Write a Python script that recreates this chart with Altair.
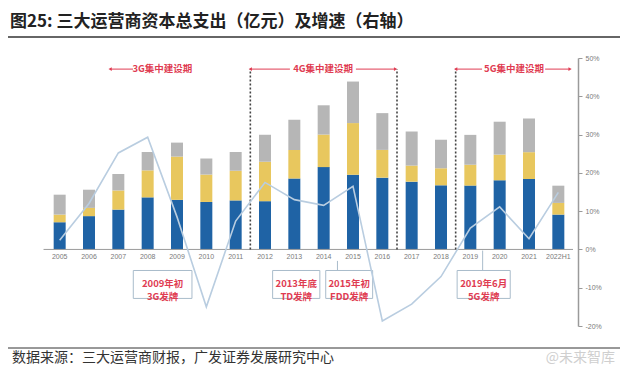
import altair as alt
import pandas as pd

years = ["2005", "2006", "2007", "2008", "2009", "2010", "2011", "2012", "2013",
         "2014", "2015", "2016", "2017", "2018", "2019", "2020", "2021", "2022H1"]
series = ["中国移动", "中国联通", "中国电信"]
mobile = [710, 870, 1040, 1360, 1295, 1240, 1280, 1260, 1850, 2150, 1950, 1875, 1770, 1675, 1667, 1806, 1840, 910]
unicom = [200, 215, 500, 705, 1130, 715, 775, 1030, 750, 850, 1350, 725, 420, 445, 545, 670, 700, 305]
telecom = [520, 475, 430, 480, 365, 420, 490, 705, 785, 765, 1085, 960, 890, 745, 780, 860, 880, 450]
growth = [2.4, 12, 25.2, 29.3, 8.5, -15, 7.4, 17.5, 13, 11.5, 16.5, -18.7, -14.3, -7.1, 5.6, 11.1, 2.8, 14.9]
colors = ["#1f63a5", "#e8c75e", "#b6b6b6"]

left_ticks = [-2000, -1000, 0, 1000, 2000, 3000, 4000, 5000]
right_ticks = [-20, -10, 0, 10, 20, 30, 40, 50]

# annotation content
periods = ["3G集中建设期", "4G集中建设期", "5G集中建设期"]
period_centers = [3.5, 8.98, 15.49]
dividers = [6.5, 11.5, 13.5]
arrow_segs = [(1.72, 2.5), (6.5, 7.85), (10.1, 11.45), (13.5, 14.4), (16.55, 17.4)]
arrow_heads_left = [1.72, 6.5, 13.5]
arrow_heads_right = [11.45, 17.4]
arrow_level = 4710

boxes_text = ["2009年初\n3G发牌", "2013年底\nTD发牌", "2015年初\nFDD发牌", "2019年6月\n5G发牌"]
boxes_x = [(2.51, 4.51), (7.26, 8.87), (9.07, 10.67), (13.55, 15.36)]
box_top, box_bottom = -550, -1280
connectors = [(9.47, -300), (14.42, -30)]

idx = list(range(len(years)))
XS = alt.Scale(domain=[-0.5, 17.5], nice=False, zero=False)
YS = alt.Scale(domain=[-2000, 5000], nice=False, zero=False)
RED = "#e03c52"
FONT = "Noto Sans CJK SC"

rows = []
for i in idx:
    for o, (s, vals) in enumerate(zip(series, [mobile, unicom, telecom])):
        rows.append({"i": i, "s": s, "v": vals[i], "o": o})
bars_df = pd.DataFrame(rows)

bars = alt.Chart(bars_df).mark_bar(size=12, orient="vertical").encode(
    x=alt.X("i:Q", scale=XS, axis=None),
    y=alt.Y("v:Q", stack="zero", scale=YS, title=None,
            axis=alt.Axis(values=left_ticks, grid=False, ticks=False, domainColor="#9a9a9a",
                          domainWidth=1.5, labelFontSize=7, labelColor="#7a7a7a", labelPadding=6,
                          labelFont="Liberation Sans")),
    color=alt.Color("s:N", scale=alt.Scale(domain=series, range=colors), legend=None),
    order=alt.Order("o:Q"),
)

year_df = pd.DataFrame({"i": idx, "z": [0] * len(idx), "t": years})
year_labels = alt.Chart(year_df).mark_text(fontSize=7, color="#7a7a7a", dy=8, font="Liberation Sans").encode(
    x=alt.X("i:Q", scale=XS, axis=None), y=alt.Y("z:Q", scale=YS, axis=None), text="t:N")

zero_df = pd.DataFrame({"a": [-0.55], "b": [17.5], "z": [0]})
zero_line = alt.Chart(zero_df).mark_rule(color="#9a9a9a", strokeWidth=1).encode(
    x=alt.X("a:Q", scale=XS, axis=None), x2="b:Q", y=alt.Y("z:Q", scale=YS, axis=None))

div_df = pd.DataFrame({"x": dividers, "y0": [0] * 3, "y1": [arrow_level] * 3})
div_lines = alt.Chart(div_df).mark_rule(color="#444444", strokeWidth=1.6, strokeDash=[2, 2]).encode(
    x=alt.X("x:Q", scale=XS, axis=None), y=alt.Y("y0:Q", scale=YS, axis=None), y2="y1:Q")

seg_df = pd.DataFrame({"a": [s[0] for s in arrow_segs], "b": [s[1] for s in arrow_segs],
                       "y": [arrow_level] * len(arrow_segs)})
segs = alt.Chart(seg_df).mark_rule(color=RED, strokeWidth=1).encode(
    x=alt.X("a:Q", scale=XS, axis=None), x2="b:Q", y=alt.Y("y:Q", scale=YS, axis=None))

hl_df = pd.DataFrame({"x": arrow_heads_left, "y": [arrow_level] * len(arrow_heads_left)})
heads_l = alt.Chart(hl_df).mark_point(shape="triangle-left", filled=True, size=14, color=RED, opacity=1).encode(
    x=alt.X("x:Q", scale=XS, axis=None), y=alt.Y("y:Q", scale=YS, axis=None))
hr_df = pd.DataFrame({"x": arrow_heads_right, "y": [arrow_level] * len(arrow_heads_right)})
heads_r = alt.Chart(hr_df).mark_point(shape="triangle-right", filled=True, size=14, color=RED, opacity=1).encode(
    x=alt.X("x:Q", scale=XS, axis=None), y=alt.Y("y:Q", scale=YS, axis=None))

per_df = pd.DataFrame({"x": period_centers, "y": [arrow_level] * 3, "t": periods})
per_text = alt.Chart(per_df).mark_text(color=RED, fontSize=9.5, font=FONT, fontWeight="bold").encode(
    x=alt.X("x:Q", scale=XS, axis=None), y=alt.Y("y:Q", scale=YS, axis=None), text="t:N")

con_df = pd.DataFrame({"x": [c[0] for c in connectors], "y0": [c[1] for c in connectors],
                       "y1": [box_top] * len(connectors)})
con_lines = alt.Chart(con_df).mark_rule(color="#a9bccb", strokeWidth=1).encode(
    x=alt.X("x:Q", scale=XS, axis=None), y=alt.Y("y0:Q", scale=YS, axis=None), y2="y1:Q")

box_df = pd.DataFrame({"a": [b[0] for b in boxes_x], "b": [b[1] for b in boxes_x],
                       "y0": [box_top] * 4, "y1": [box_bottom] * 4, "t": boxes_text,
                       "c": [(b[0] + b[1]) / 2 for b in boxes_x], "m": [(box_top + box_bottom) / 2] * 4})
box_rects = alt.Chart(box_df).mark_rect(fill="white", stroke="#a9bccb", strokeWidth=1).encode(
    x=alt.X("a:Q", scale=XS, axis=None), x2="b:Q", y=alt.Y("y0:Q", scale=YS, axis=None), y2="y1:Q")
box_texts = alt.Chart(box_df).mark_text(color=RED, fontSize=9.5, font=FONT, fontWeight="bold",
                                        lineBreak="\n", lineHeight=12.5).encode(
    x=alt.X("c:Q", scale=XS, axis=None), y=alt.Y("m:Q", scale=YS, axis=None), text="t:N")

one = pd.DataFrame({"k": [0]})
title = alt.Chart(one).mark_text(text="图25:  三大运营商资本总支出（亿元）及增速（右轴）", align="left",
                                 baseline="middle", fontSize=17, fontWeight="bold", font=FONT,
                                 color="#222222").encode(x=alt.value(-30), y=alt.value(-36))
title_rule = alt.Chart(one).mark_rule(color="#333333", strokeWidth=1.5).encode(
    x=alt.value(-35), x2=alt.value(580), y=alt.value(-21))
foot_rule = alt.Chart(one).mark_rule(color="#333333", strokeWidth=1).encode(
    x=alt.value(-35), x2=alt.value(580), y=alt.value(290))
footer = alt.Chart(one).mark_text(text="数据来源：三大运营商财报，广发证券发展研究中心", align="left",
                                  baseline="middle", fontSize=14, font=FONT, color="#333333").encode(
    x=alt.value(-28), y=alt.value(300))
mark_wm = alt.Chart(one).mark_text(text="@未来智库", align="right", baseline="middle", fontSize=14,
                                   font=FONT, color="#cfcfcf").encode(x=alt.value(575), y=alt.value(300))

left = alt.layer(bars, zero_line, year_labels, div_lines, segs, heads_l, heads_r, per_text,
                 con_lines, box_rects, box_texts, title, title_rule, foot_rule, footer, mark_wm)

line_df = pd.DataFrame({"i": idx, "g": growth})
line = alt.Chart(line_df).mark_line(color="#b9cde0", strokeWidth=1.6).encode(
    x=alt.X("i:Q", scale=XS, axis=None),
    y=alt.Y("g:Q", scale=alt.Scale(domain=[-20, 50], nice=False, zero=False), title=None,
            axis=alt.Axis(orient="right", values=right_ticks, grid=False, tickSize=4,
                          tickColor="#9a9a9a", domainColor="#9a9a9a", domainWidth=1.5,
                          labelExpr="datum.value + '%'", labelFontSize=7, labelColor="#7a7a7a",
                          labelPadding=3, labelFont="Liberation Sans")),
)

chart = alt.layer(left, line).resolve_scale(y="independent").properties(
    width=538, height=268,
    autosize=alt.AutoSizeParams(type="none"),
    padding={"left": 32, "top": 50, "right": 43, "bottom": 40},
).configure_view(stroke=None)

chart.save("out.html", embed_options={"renderer": "svg", "actions": False})
